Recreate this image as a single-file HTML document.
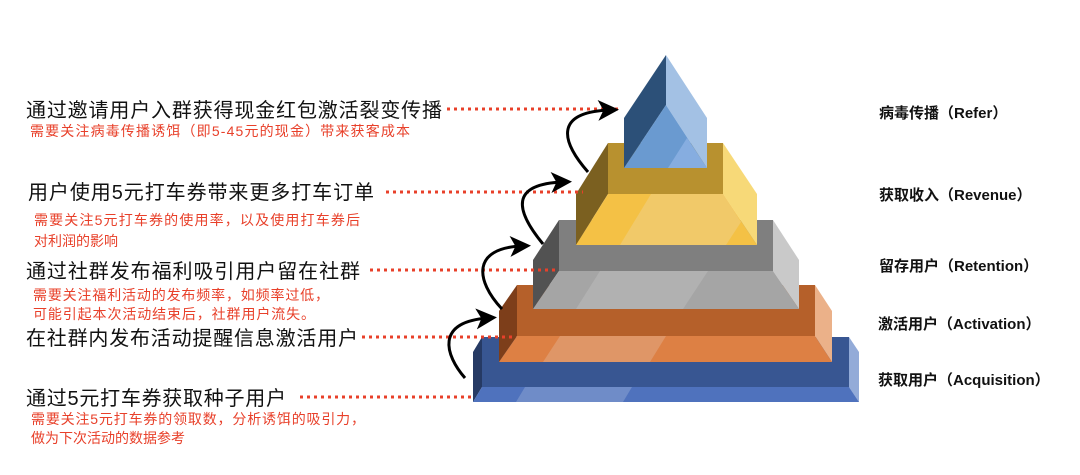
<!DOCTYPE html>
<html><head><meta charset="utf-8"><style>
html,body{margin:0;padding:0;background:#fff;}
svg{display:block;}
.m{font-family:"Liberation Sans","Noto Sans CJK SC",sans-serif;font-size:20px;fill:#111;}
.r{font-family:"Liberation Sans","Noto Sans CJK SC",sans-serif;font-size:14px;fill:#e8402a;}
.b{font-family:"Liberation Sans","Noto Sans CJK SC",sans-serif;font-size:15px;font-weight:bold;fill:#111;}
.d{stroke:#e8402a;stroke-width:3;stroke-dasharray:3 4;fill:none;}
.a{stroke:#000;stroke-width:3;fill:none;}
</style></head><body>
<svg width="1080" height="475" viewBox="0 0 1080 475" xmlns="http://www.w3.org/2000/svg">
<defs><marker id="ah" markerWidth="7" markerHeight="7" refX="4" refY="3.5" orient="auto" markerUnits="strokeWidth"><path d="M0,0 L7,3.5 L0,7 L1.8,3.5 Z" fill="#000"/></marker></defs>

<polygon points="482,337 849,337 849,387 482,387" fill="#385692"/>
<polygon points="482,337 473,352 473,402 482,387" fill="#263a64"/>
<polygon points="849,337 859,352 859,402 849,387" fill="#93abd8"/>
<polygon points="482,387 849,387 859,402 473,402" fill="#4f72bd"/>
<polygon points="525,387 632,387 623,402 516,402" fill="#6f8cc8"/>

<polygon points="517,285 815,285 815,336 517,336" fill="#b5602a"/>
<polygon points="517,285 499,311 499,362 517,336" fill="#7d3e1a"/>
<polygon points="815,285 832,311 832,362 815,336" fill="#ebb189"/>
<polygon points="517,336 815,336 832,362 499,362" fill="#dd8044"/>
<polygon points="560,336 666,336 650,362 543,362" fill="#df9667"/>

<polygon points="559,220 773,220 773,271 559,271" fill="#7f7f7f"/>
<polygon points="559,220 533,260 533,309 559,271" fill="#525252"/>
<polygon points="773,220 799,260 799,309 773,271" fill="#c9c9c9"/>
<polygon points="559,271 773,271 799,309 533,309" fill="#a5a5a5"/>
<polygon points="600,271 708,271 683,309 576,309" fill="#b1b1b1"/>

<polygon points="608,143 723,143 723,194 608,194" fill="#b8912f"/>
<polygon points="608,143 576,194 576,245 608,194" fill="#7b6020"/>
<polygon points="723,143 757,194 757,245 723,194" fill="#f7d978"/>
<polygon points="608,194 723,194 757,245 576,245" fill="#f4c145"/>
<polygon points="651,194 723,194 741,222 726,245 620,245" fill="#f1c969"/>

<polygon points="624,118 666,55 666,105 624,168" fill="#2c5078"/>
<polygon points="666,55 707,118 707,168 666,105" fill="#a3c1e4"/>
<polygon points="624,168 666,105 707,168" fill="#6a9ad0"/>
<polygon points="668,168 687,138 707,168" fill="#86ade0"/>

<line class="d" x1="447" y1="109" x2="622" y2="109"/>
<line class="d" x1="386" y1="192" x2="583" y2="192"/>
<line class="d" x1="370" y1="270" x2="555" y2="270"/>
<line class="d" x1="362" y1="337" x2="513" y2="337"/>
<line class="d" x1="300" y1="397" x2="475" y2="397"/>

<path class="a" d="M588,172 C560,140 555,112 610,110" marker-end="url(#ah)"/>
<path class="a" d="M543,244 C515,210 510,184 563,182" marker-end="url(#ah)"/>
<path class="a" d="M502,309 C475,280 472,248 522,246" marker-end="url(#ah)"/>
<path class="a" d="M465,378 C445,355 435,322 488,318" marker-end="url(#ah)"/>

<text class="m" x="26" y="117" textLength="416">通过邀请用户入群获得现金红包激活裂变传播</text>
<text class="r" x="30" y="136" textLength="380">需要关注病毒传播诱饵（即5-45元的现金）带来获客成本</text>
<text class="m" x="28" y="199" textLength="346">用户使用5元打车券带来更多打车订单</text>
<text class="r" x="34" y="225" textLength="326">需要关注5元打车券的使用率，以及使用打车券后</text>
<text class="r" x="34" y="246">对利润的影响</text>
<text class="m" x="26" y="278" textLength="334">通过社群发布福利吸引用户留在社群</text>
<text class="r" x="33" y="300" textLength="296">需要关注福利活动的发布频率，如频率过低，</text>
<text class="r" x="33" y="319" textLength="282">可能引起本次活动结束后，社群用户流失。</text>
<text class="m" x="26" y="345" textLength="332">在社群内发布活动提醒信息激活用户</text>
<text class="m" x="26" y="405" textLength="260">通过5元打车券获取种子用户</text>
<text class="r" x="31" y="424" textLength="334">需要关注5元打车券的领取数，分析诱饵的吸引力，</text>
<text class="r" x="31" y="443">做为下次活动的数据参考</text>

<text class="b" x="879" y="118">病毒传播（Refer）</text>
<text class="b" x="879" y="200">获取收入（Revenue）</text>
<text class="b" x="879" y="271">留存用户（Retention）</text>
<text class="b" x="878" y="329">激活用户（Activation）</text>
<text class="b" x="878" y="385">获取用户（Acquisition）</text>
</svg>
</body></html>
